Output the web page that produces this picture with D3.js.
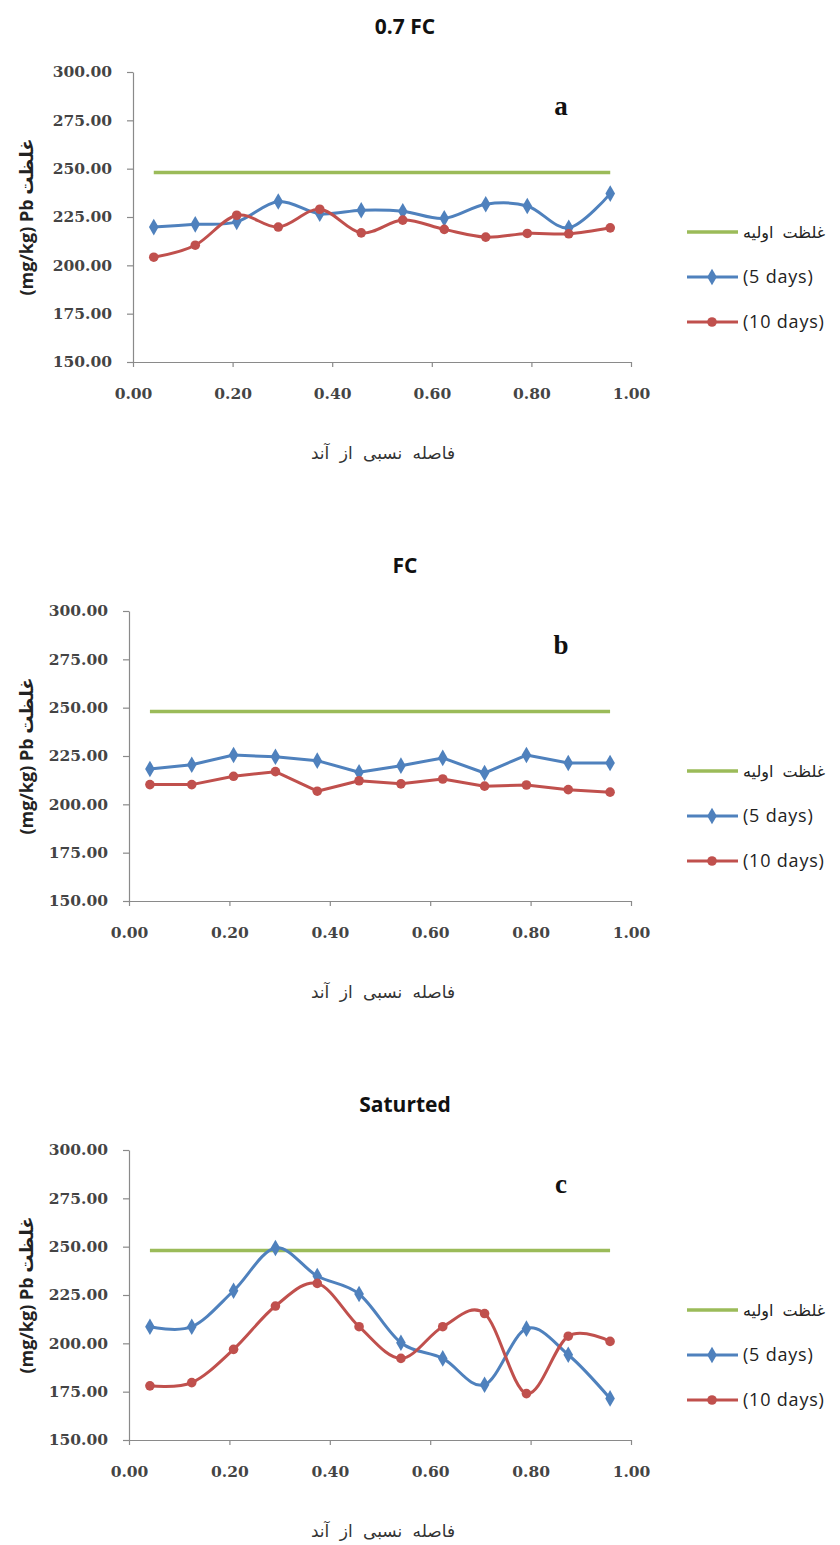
<!DOCTYPE html>
<html>
<head>
<meta charset="utf-8">
<script src="https://cdn.jsdelivr.net/npm/d3@7"></script>
<style>
  html, body { margin: 0; padding: 0; background: #fff; }
  svg { display: block; }
</style>
</head>
<body>
<svg id="chart" width="840" height="1545"></svg>
<script>
// Relative distance from the anode (sampling positions)
const distance = [0.0417, 0.125, 0.2083, 0.2917, 0.375, 0.4583, 0.5417, 0.625, 0.7083, 0.7917, 0.875, 0.9583];

// Panel a: 0.7 FC
const fc07Initial = [248, 248, 248, 248, 248, 248, 248, 248, 248, 248, 248, 248];
const fc07Days5   = [219.8, 221.2, 222.5, 233.0, 226.7, 228.5, 228.0, 224.3, 231.6, 230.7, 219.4, 237.1];
const fc07Days10  = [204.2, 210.4, 225.9, 219.8, 229.0, 216.8, 223.4, 218.6, 214.6, 216.5, 216.3, 219.4];

// Panel b: FC
const fcInitial = [248, 248, 248, 248, 248, 248, 248, 248, 248, 248, 248, 248];
const fcDays5   = [218.3, 220.5, 225.5, 224.6, 222.6, 216.6, 220.0, 224.0, 216.2, 225.5, 221.4, 221.4];
const fcDays10  = [210.2, 210.2, 214.5, 216.9, 206.8, 212.2, 210.6, 213.1, 209.4, 210.0, 207.6, 206.3];

// Panel c: Saturated
const satInitial = [248, 248, 248, 248, 248, 248, 248, 248, 248, 248, 248, 248];
const satDays5   = [208.6, 208.6, 227.2, 249.3, 234.8, 225.5, 200.3, 192.2, 178.6, 207.6, 194.1, 171.5];
const satDays10  = [178.0, 179.7, 196.9, 219.3, 231.0, 208.6, 192.2, 208.6, 215.4, 174.0, 203.7, 201.0];

const panelTitles  = ["0.7 FC", "FC", "Saturted"];
const panelLetters = ["a", "b", "c"];
const legendLabels = ["غلظت اولیه", "(5 days)", "(10 days)"];
const yTicks = [150, 175, 200, 225, 250, 275, 300];
const xTicks = [0, 0.2, 0.4, 0.6, 0.8, 1.0];
const yTitle = "(mg/kg) Pb غلظت";
const xTitle = "فاصله نسبی از آند";

const panelSeries = [
  [fc07Initial, fc07Days5, fc07Days10],
  [fcInitial, fcDays5, fcDays10],
  [satInitial, satDays5, satDays10]
];

// Layout and style
const colors = ["#9BBB59", "#4F81BD", "#C0504D"];
const panelTop = [72, 611, 1150];
const axisLeft = [133, 129, 129];
const axisRight = 631;
const plotH = 290;
const smoothPanel = [true, false, true];

const svg = d3.select("#chart");
const fmt = d3.format(".2f");

panelSeries.forEach((series, i) => {
  const top = panelTop[i], bottom = top + plotH;
  const x = d3.scaleLinear().domain([0, 1]).range([axisLeft[i], axisRight]);
  const y = d3.scaleLinear().domain([150, 300]).range([bottom, top]);
  const g = svg.append("g");

  // Title
  g.append("text")
    .attr("x", 405).attr("y", top - 38)
    .attr("text-anchor", "middle")
    .style("font-family", "'Open Sans', sans-serif")
    .style("font-weight", "bold").style("font-size", "21px")
    .style("fill", "#111")
    .text(panelTitles[i]);

  // Panel letter
  g.append("text")
    .attr("x", 561).attr("y", top + 43)
    .attr("text-anchor", "middle")
    .style("font-family", "'Liberation Serif', serif")
    .style("font-weight", "bold").style("font-size", "27px")
    .style("fill", "#111")
    .text(panelLetters[i]);

  // Y axis
  const yAxis = g.append("g")
    .attr("transform", `translate(${axisLeft[i]},0)`)
    .call(d3.axisLeft(y).tickValues(yTicks).tickFormat(fmt).tickSize(6).tickSizeOuter(0).tickPadding(15));

  // X axis
  const xAxis = g.append("g")
    .attr("transform", `translate(0,${bottom})`)
    .call(d3.axisBottom(x).tickValues(xTicks).tickFormat(fmt).tickSize(5).tickSizeOuter(0).tickPadding(21));

  [yAxis, xAxis].forEach(ax => {
    ax.select(".domain").attr("stroke", "#8a8a8a").attr("stroke-width", 1.2);
    ax.selectAll(".tick line").attr("stroke", "#8a8a8a").attr("stroke-width", 1.2);
    ax.selectAll(".tick text")
      .style("font-family", "'DejaVu Serif', serif")
      .style("font-size", "15.5px")
      .style("font-weight", "bold")
      .style("fill", "#444");
  });

  // Y axis title
  g.append("text")
    .attr("transform", `translate(33,${(top + bottom) / 2}) rotate(-90)`)
    .attr("text-anchor", "middle")
    .style("font-family", "'Open Sans', 'DejaVu Sans', sans-serif")
    .style("font-weight", "bold").style("font-size", "18px")
    .style("fill", "#222")
    .text(yTitle);

  // X axis title
  g.append("text")
    .attr("x", 383).attr("y", bottom + 97)
    .attr("text-anchor", "middle")
    .style("font-family", "'DejaVu Sans', sans-serif")
    .style("font-size", "17px")
    .style("word-spacing", "5px")
    .style("fill", "#333")
    .text(xTitle);

  // Series lines
  const line = d3.line()
    .x((d, k) => x(distance[k]))
    .y(d => y(d))
    .curve(smoothPanel[i] ? d3.curveCardinal.tension(0) : d3.curveLinear);

  series.forEach((vals, s) => {
    g.append("path")
      .datum(vals)
      .attr("d", line)
      .attr("fill", "none")
      .attr("stroke", colors[s])
      .attr("stroke-width", s === 0 ? 3.5 : 3)
      .attr("stroke-linejoin", "round");
  });

  // Markers: diamonds for 5 days, circles for 10 days
  const diamond = d3.symbol().type(d3.symbolDiamond).size(80);
  g.selectAll(".m5").data(series[1]).join("path")
    .attr("transform", (d, k) => `translate(${x(distance[k])},${y(d)})`)
    .attr("d", diamond)
    .attr("fill", colors[1]);
  g.selectAll(".m10").data(series[2]).join("circle")
    .attr("cx", (d, k) => x(distance[k]))
    .attr("cy", d => y(d))
    .attr("r", 4.8)
    .attr("fill", colors[2]);

  // Legend
  legendLabels.forEach((lab, s) => {
    const ly = top + 160 + s * 45;
    const lg = g.append("g");
    lg.append("line")
      .attr("x1", 687).attr("x2", 738).attr("y1", ly).attr("y2", ly)
      .attr("stroke", colors[s]).attr("stroke-width", s === 0 ? 3.5 : 3);
    if (s === 1) {
      lg.append("path").attr("transform", `translate(712,${ly})`)
        .attr("d", diamond).attr("fill", colors[1]);
    } else if (s === 2) {
      lg.append("circle").attr("cx", 712).attr("cy", ly).attr("r", 4.8)
        .attr("fill", colors[2]);
    }
    lg.append("text")
      .attr("x", 743).attr("y", ly).attr("dy", "0.35em")
      .style("font-family", s === 0 ? "'DejaVu Sans', sans-serif" : "'Open Sans', sans-serif")
      .style("font-size", s === 0 ? "16px" : "18px")
      .style("word-spacing", s === 0 ? "4px" : "0px")
      .style("letter-spacing", s === 0 ? "0px" : "0.8px")
      .style("fill", "#222")
      .text(lab);
  });
});
</script>
</body>
</html>
